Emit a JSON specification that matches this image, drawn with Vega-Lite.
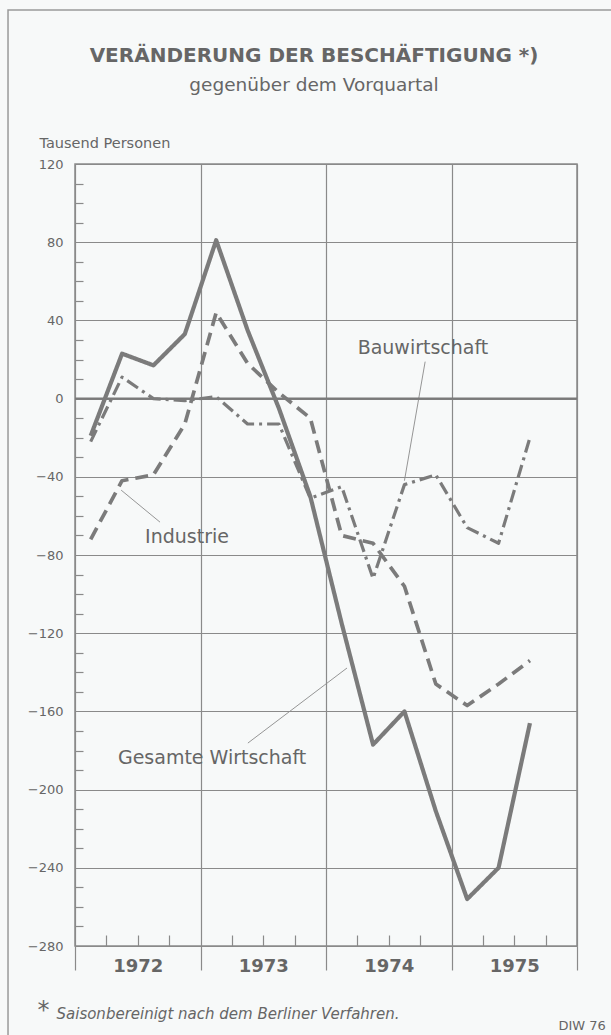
{
  "$schema": "https://vega.github.io/schema/vega-lite/v6.json",
  "width": 502,
  "height": 782,
  "autosize": "none",
  "padding": {"left": 75, "top": 164, "right": 34, "bottom": 89},
  "background": "#f7f9f9",
  "title": {
    "text": "VERÄNDERUNG DER BESCHÄFTIGUNG *)",
    "subtitle": "gegenüber dem Vorquartal",
    "anchor": "middle",
    "frame": "group",
    "dx": -12,
    "offset": -85,
    "font": "DejaVu Sans",
    "fontSize": 20,
    "fontWeight": "bold",
    "color": "#666666",
    "subtitleFont": "DejaVu Sans",
    "subtitleFontSize": 18.5,
    "subtitleColor": "#666666",
    "subtitlePadding": 10
  },
  "datasets": {
    "series": [
      {"t": 0.5, "s": "Gesamte Wirtschaft", "v": -19},
      {"t": 1.5, "s": "Gesamte Wirtschaft", "v": 23},
      {"t": 2.5, "s": "Gesamte Wirtschaft", "v": 17},
      {"t": 3.5, "s": "Gesamte Wirtschaft", "v": 33},
      {"t": 4.5, "s": "Gesamte Wirtschaft", "v": 81},
      {"t": 5.5, "s": "Gesamte Wirtschaft", "v": 35},
      {"t": 6.5, "s": "Gesamte Wirtschaft", "v": -5},
      {"t": 7.5, "s": "Gesamte Wirtschaft", "v": -50},
      {"t": 8.5, "s": "Gesamte Wirtschaft", "v": -115},
      {"t": 9.5, "s": "Gesamte Wirtschaft", "v": -177},
      {"t": 10.5, "s": "Gesamte Wirtschaft", "v": -160},
      {"t": 11.5, "s": "Gesamte Wirtschaft", "v": -211},
      {"t": 12.5, "s": "Gesamte Wirtschaft", "v": -256},
      {"t": 13.5, "s": "Gesamte Wirtschaft", "v": -240},
      {"t": 14.5, "s": "Gesamte Wirtschaft", "v": -166},
      {"t": 0.5, "s": "Industrie", "v": -72},
      {"t": 1.5, "s": "Industrie", "v": -42},
      {"t": 2.5, "s": "Industrie", "v": -39},
      {"t": 3.5, "s": "Industrie", "v": -13},
      {"t": 4.5, "s": "Industrie", "v": 44},
      {"t": 5.5, "s": "Industrie", "v": 18},
      {"t": 6.5, "s": "Industrie", "v": 3},
      {"t": 7.5, "s": "Industrie", "v": -10},
      {"t": 8.5, "s": "Industrie", "v": -70},
      {"t": 9.5, "s": "Industrie", "v": -74},
      {"t": 10.5, "s": "Industrie", "v": -96},
      {"t": 11.5, "s": "Industrie", "v": -146},
      {"t": 12.5, "s": "Industrie", "v": -157},
      {"t": 13.5, "s": "Industrie", "v": -146},
      {"t": 14.5, "s": "Industrie", "v": -134},
      {"t": 0.5, "s": "Bauwirtschaft", "v": -22},
      {"t": 1.5, "s": "Bauwirtschaft", "v": 11},
      {"t": 2.5, "s": "Bauwirtschaft", "v": 0},
      {"t": 3.5, "s": "Bauwirtschaft", "v": -1},
      {"t": 4.5, "s": "Bauwirtschaft", "v": 1},
      {"t": 5.5, "s": "Bauwirtschaft", "v": -13},
      {"t": 6.5, "s": "Bauwirtschaft", "v": -13},
      {"t": 7.5, "s": "Bauwirtschaft", "v": -51},
      {"t": 8.5, "s": "Bauwirtschaft", "v": -45},
      {"t": 9.5, "s": "Bauwirtschaft", "v": -92},
      {"t": 10.5, "s": "Bauwirtschaft", "v": -44},
      {"t": 11.5, "s": "Bauwirtschaft", "v": -39},
      {"t": 12.5, "s": "Bauwirtschaft", "v": -66},
      {"t": 13.5, "s": "Bauwirtschaft", "v": -74},
      {"t": 14.5, "s": "Bauwirtschaft", "v": -20}
    ],
    "labels": [
      {"x": 11.09, "y": 25.9, "label": "Bauwirtschaft"},
      {"x": 3.57, "y": -70.8, "label": "Industrie"},
      {"x": 4.37, "y": -183.8, "label": "Gesamte Wirtschaft"}
    ],
    "leaders": [
      {"x": 11.16, "y": 18.9, "x2": 10.5, "y2": -42},
      {"x": 2.71, "y": -63.2, "x2": 1.47, "y2": -46.8},
      {"x": 5.51, "y": -176.2, "x2": 8.67, "y2": -137.8}
    ],
    "frame": [
      {"x": -2.135, "x2": 17.5, "y": 198.8, "y2": -340}
    ],
    "zero": [{"v": 0}]
  },
  "layer": [
    {
      "data": {"name": "frame"},
      "mark": {"type": "rect", "fillOpacity": 0, "stroke": "#9a9a9a", "strokeWidth": 1.5},
      "encoding": {
        "x": {"field": "x", "type": "quantitative", "scale": {"domain": [0, 16], "nice": false, "zero": false}, "axis": null},
        "x2": {"field": "x2"},
        "y": {"field": "y", "type": "quantitative", "scale": {"domain": [-280, 120], "nice": false, "zero": false}, "axis": null},
        "y2": {"field": "y2"}
      }
    },
    {
      "data": {"name": "leaders"},
      "mark": {"type": "rule", "color": "#8a8a8a", "strokeWidth": 0.9},
      "encoding": {
        "x": {"field": "x", "type": "quantitative", "scale": {"domain": [0, 16], "nice": false, "zero": false},
          "axis": {"orient": "bottom", "values": [0, 4, 8, 12, 16], "grid": true, "ticks": true, "tickSize": 24, "tickWidth": 1.2, "tickColor": "#8a8a8a", "gridColor": "#8a8a8a", "gridWidth": 1.2, "gridOpacity": 1, "domain": false, "labels": false,
            "title": "DIW 76", "titleX": 483, "titleY": 79, "titleAlign": "left", "titleBaseline": "middle", "titleFontWeight": "normal", "titleFontSize": 13, "titleColor": "#666666", "titleFont": "DejaVu Sans"}},
        "x2": {"field": "x2"},
        "y": {"field": "y", "type": "quantitative", "scale": {"domain": [-280, 120], "nice": false, "zero": false},
          "axis": {"orient": "left", "values": [-270, -260, -250, -230, -220, -210, -190, -180, -170, -150, -140, -130, -110, -100, -90, -70, -60, -50, -30, -20, -10, 10, 20, 30, 50, 60, 70, 90, 100, 110], "ticks": true, "tickSize": -8, "tickColor": "#8a8a8a", "tickWidth": 1.2, "labels": false, "domain": false, "grid": false, "title": null}},
        "y2": {"field": "y2"}
      }
    },
    {
      "data": {"name": "zero"},
      "mark": {"type": "rule", "color": "#7a7a7a", "strokeWidth": 2.2},
      "encoding": {
        "y": {"field": "v", "type": "quantitative", "scale": {"domain": [-280, 120], "nice": false, "zero": false}, "axis": null}
      }
    },
    {
      "data": {"name": "series"},
      "mark": {"type": "line", "color": "#7b7b7b", "strokeJoin": "round"},
      "encoding": {
        "x": {"field": "t", "type": "quantitative", "scale": {"domain": [0, 16], "nice": false, "zero": false},
          "axis": {"orient": "bottom", "values": [2, 6, 10, 14], "labelExpr": "toString(1971.5 + datum.value / 4)", "ticks": false, "domain": false, "grid": false,
            "labelFont": "DejaVu Sans", "labelFontSize": 18, "labelFontWeight": "bold", "labelColor": "#666666", "labelPadding": 11,
            "title": "Saisonbereinigt nach dem Berliner Verfahren.", "titleFont": "DejaVu Sans", "titleFontStyle": "italic", "titleFontWeight": "normal", "titleFontSize": 15, "titleColor": "#666666", "titleX": -19, "titleY": 67, "titleAlign": "left", "titleBaseline": "middle"}},
        "y": {"field": "v", "type": "quantitative", "scale": {"domain": [-280, 120], "nice": false, "zero": false},
          "axis": {"orient": "left", "values": [-280, -240, -200, -160, -120, -80, -40, 0, 40, 80, 120], "ticks": false, "domain": false, "grid": true, "gridColor": "#8a8a8a", "gridWidth": 1.2, "gridOpacity": 1,
            "labelFont": "DejaVu Sans", "labelFontSize": 13, "labelColor": "#666666", "labelPadding": 12,
            "title": "Tausend Personen", "titleFont": "DejaVu Sans", "titleAngle": 0, "titleX": -36, "titleY": -21, "titleAlign": "left", "titleBaseline": "middle", "titleFontWeight": "normal", "titleFontSize": 14.5, "titleColor": "#666666"}},
        "strokeDash": {"field": "s", "type": "nominal", "scale": {"domain": ["Gesamte Wirtschaft", "Industrie", "Bauwirtschaft"], "range": [[1, 0], [13, 7], [13, 5, 3, 5]]}, "legend": null},
        "strokeWidth": {"field": "s", "type": "nominal", "scale": {"domain": ["Gesamte Wirtschaft", "Industrie", "Bauwirtschaft"], "range": [4.2, 3.2, 3.2]}, "legend": null},
        "order": {"field": "t", "type": "quantitative"}
      }
    },
    {
      "data": {"name": "labels"},
      "mark": {"type": "text", "font": "DejaVu Sans", "fontSize": 19, "color": "#666666", "align": "center", "baseline": "middle"},
      "encoding": {
        "x": {"field": "x", "type": "quantitative", "scale": {"domain": [0, 16], "nice": false, "zero": false},
          "axis": {"orient": "bottom", "values": [1, 2, 3, 5, 6, 7, 9, 10, 11, 13, 14, 15], "ticks": true, "tickSize": -11, "tickWidth": 1.2, "tickColor": "#8a8a8a", "labels": false, "domain": false, "grid": false,
            "title": "*", "titleFont": "DejaVu Sans", "titleFontSize": 24, "titleFontWeight": "normal", "titleColor": "#666666", "titleX": -38, "titleY": 64, "titleAlign": "left", "titleBaseline": "middle"}},
        "y": {"field": "y", "type": "quantitative", "scale": {"domain": [-280, 120], "nice": false, "zero": false}, "axis": null},
        "text": {"field": "label"}
      }
    }
  ],
  "resolve": {"axis": {"x": "independent", "y": "independent"}},
  "config": {
    "font": "DejaVu Sans",
    "view": {"stroke": "#8a8a8a", "strokeWidth": 1.5}
  }
}
